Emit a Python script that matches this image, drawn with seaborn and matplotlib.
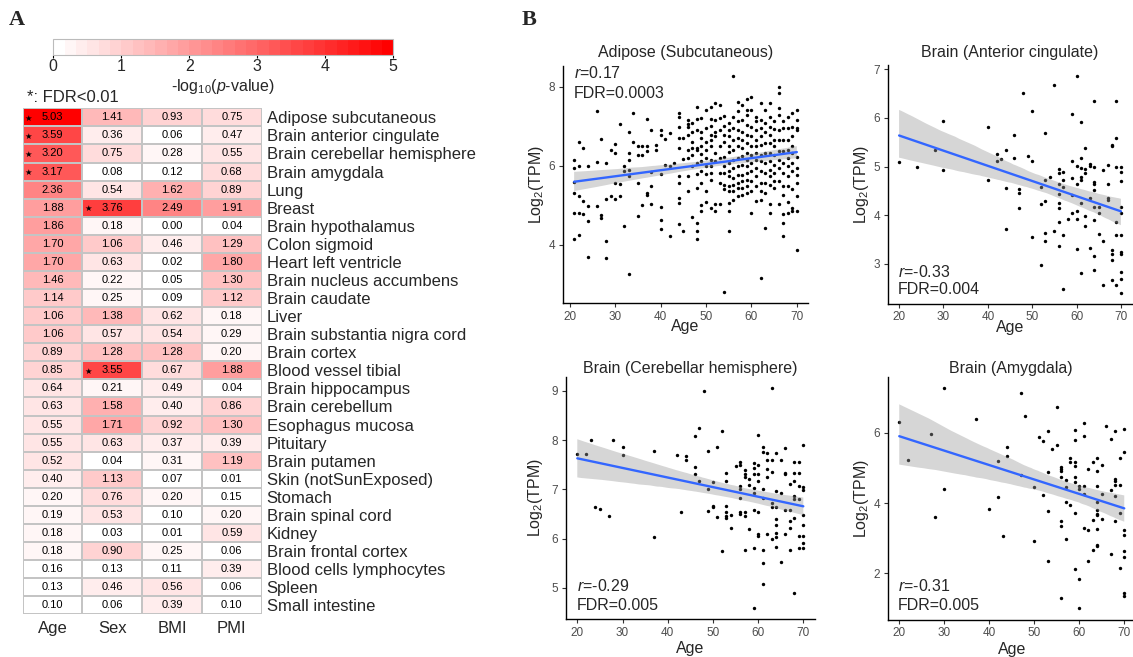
import numpy as np
import pandas as pd
import matplotlib
matplotlib.use("Agg")
import matplotlib.pyplot as plt
import seaborn as sns
from matplotlib.colors import LinearSegmentedColormap
from matplotlib.collections import PolyCollection

# ---------------- data: panel A ----------------
tissues = ["Adipose subcutaneous", "Brain anterior cingulate", "Brain cerebellar hemisphere",
           "Brain amygdala", "Lung", "Breast", "Brain hypothalamus", "Colon sigmoid",
           "Heart left ventricle", "Brain nucleus accumbens", "Brain caudate", "Liver",
           "Brain substantia nigra cord", "Brain cortex", "Blood vessel tibial",
           "Brain hippocampus", "Brain cerebellum", "Esophagus mucosa", "Pituitary",
           "Brain putamen", "Skin (notSunExposed)", "Stomach", "Brain spinal cord", "Kidney",
           "Brain frontal cortex", "Blood cells lymphocytes", "Spleen", "Small intestine"]
factors = ["Age", "Sex", "BMI", "PMI"]
age_p = [5.03, 3.59, 3.20, 3.17, 2.36, 1.88, 1.86, 1.70, 1.70, 1.46, 1.14, 1.06, 1.06, 0.89,
         0.85, 0.64, 0.63, 0.55, 0.55, 0.52, 0.40, 0.20, 0.19, 0.18, 0.18, 0.16, 0.13, 0.10]
sex_p = [1.41, 0.36, 0.75, 0.08, 0.54, 3.76, 0.18, 1.06, 0.63, 0.22, 0.25, 1.38, 0.57, 1.28,
         3.55, 0.21, 1.58, 1.71, 0.63, 0.04, 1.13, 0.76, 0.53, 0.03, 0.90, 0.13, 0.46, 0.06]
bmi_p = [0.93, 0.06, 0.28, 0.12, 1.62, 2.49, 0.00, 0.46, 0.02, 0.05, 0.09, 0.62, 0.54, 1.28,
         0.67, 0.49, 0.40, 0.92, 0.37, 0.31, 0.07, 0.20, 0.10, 0.01, 0.25, 0.11, 0.56, 0.39]
pmi_p = [0.75, 0.47, 0.55, 0.68, 0.89, 1.91, 0.04, 1.29, 1.80, 1.30, 1.12, 0.18, 0.29, 0.20,
         1.88, 0.04, 0.86, 1.30, 0.39, 1.19, 0.01, 0.15, 0.20, 0.59, 0.06, 0.39, 0.06, 0.10]
# FDR < 0.01 cells (tissue, factor)
fdr_sig = [("Adipose subcutaneous", "Age"), ("Brain anterior cingulate", "Age"),
           ("Brain cerebellar hemisphere", "Age"), ("Brain amygdala", "Age"),
           ("Breast", "Sex"), ("Blood vessel tibial", "Sex")]

# ---------------- data: panel B (Log2 TPM by age) ----------------
adipose = {
    21: [5.94, 6.15, 5.58, 5.31, 4.81, 4.15], 22: [6.61, 5.98, 5.23, 4.81, 4.24],
    23: [6.44, 5.10, 4.77], 24: [5.98, 4.99, 4.60, 3.68], 26: [7.37, 6.10, 4.98],
    27: [6.68, 4.75, 4.67], 28: [6.06, 5.17, 4.10, 3.66], 29: [6.40, 5.23],
    30: [6.55, 6.32, 5.56, 5.16], 31: [7.05, 5.55, 5.23], 32: [6.00, 5.86, 4.47],
    33: [6.84, 6.32, 6.15, 5.88, 5.73, 3.26], 34: [7.32, 6.60], 35: [6.50, 6.28, 5.56, 4.74],
    36: [6.50, 6.28, 5.00], 37: [7.19, 6.50, 6.38, 5.31, 5.27], 38: [6.89, 5.83, 5.48, 5.02],
    39: [6.52, 6.40], 40: [6.89, 6.78, 5.80, 4.96, 4.64, 4.41], 41: [6.68, 6.03],
    42: [6.82, 6.00, 4.22], 43: [6.06],
    44: [7.32, 7.22, 6.97, 6.70, 6.44, 5.73, 5.56, 5.19, 5.06, 4.52], 45: [6.71, 6.18, 4.35],
    46: [7.16, 7.06, 6.97, 6.78, 6.40, 6.19, 5.75, 5.35],
    47: [7.09, 6.86, 6.61, 6.46, 6.28, 5.98, 4.70],
    48: [7.48, 7.17, 6.91, 6.44, 6.40, 6.06, 5.80, 5.44, 4.56, 4.35, 4.14],
    49: [7.20, 6.86, 6.70, 6.50, 6.29, 6.11, 5.86, 5.56, 5.00, 4.85],
    50: [7.41, 6.95, 6.61, 6.40, 6.19, 5.98, 5.80, 5.35, 5.09],
    51: [7.49, 7.18, 7.00, 6.78, 6.65, 6.49, 6.15, 5.98, 5.82, 5.65, 4.93],
    52: [7.58, 7.16, 6.86, 6.74, 6.32, 6.11, 5.02, 4.85],
    53: [7.53, 7.20, 6.91, 6.49, 6.19, 5.82, 5.56, 5.02],
    54: [7.26, 7.00, 6.78, 6.59, 6.22, 5.98, 5.82, 5.52, 5.40, 2.80],
    55: [7.07, 6.91, 6.74, 6.49, 6.34, 6.06, 5.86, 5.73, 5.48, 5.35, 5.06, 4.85, 4.35],
    56: [8.26, 7.24, 6.95, 6.65, 6.40, 6.15, 5.94, 5.69, 5.52, 5.35, 5.14],
    57: [7.61, 7.37, 7.12, 6.91, 6.70, 6.49, 6.19, 5.98, 5.77, 5.56, 5.44, 5.23],
    58: [7.53, 7.16, 6.86, 6.65, 6.44, 6.25, 6.03, 5.77, 5.61, 5.44, 5.27],
    59: [7.68, 7.41, 7.28, 7.03, 6.78, 6.57, 6.32, 6.15, 5.98, 5.82, 5.65, 5.48, 5.31],
    60: [7.73, 7.41, 6.99, 6.74, 6.49, 6.28, 6.06, 5.86, 5.61, 5.35, 4.81],
    61: [7.24, 7.12, 6.91, 6.65, 6.49, 6.32, 6.15, 5.94, 5.73, 5.48, 5.10],
    62: [7.59, 7.16, 6.95, 6.74, 6.53, 6.28, 6.11, 5.86, 5.56, 5.35, 5.14, 3.16],
    63: [7.41, 7.07, 6.86, 6.57, 6.32, 6.06, 5.82, 5.56, 5.31, 4.43],
    64: [7.59, 7.24, 6.97, 6.78, 6.57, 6.32, 6.11, 5.90, 5.73, 5.52, 5.02, 4.81],
    65: [7.13, 6.92, 6.65, 6.49, 6.28, 6.03, 5.82, 5.61, 5.44],
    66: [8.00, 7.84, 7.45, 7.28, 6.91, 6.65, 6.36, 6.15, 5.94, 5.61, 5.02],
    67: [7.12, 6.95, 6.65, 6.36, 6.06, 5.82, 5.48, 5.27, 4.77, 4.54, 4.22],
    68: [7.24, 6.95, 6.65, 6.40, 6.19, 5.98, 5.73, 5.48, 5.08, 4.81],
    69: [7.32, 6.97, 6.74, 6.49, 6.32, 6.06, 5.86, 5.40, 4.93, 4.85],
    70: [7.41, 7.16, 6.95, 6.91, 6.22, 5.94, 5.77, 5.56, 5.23, 4.85, 3.87],
}
anterior_cingulate = {
    20: [5.09], 24: [5.00], 28: [5.33], 30: [5.94, 4.92], 40: [5.81, 4.73], 42: [5.26, 5.12],
    43: [5.15], 44: [5.33, 4.55, 3.71], 46: [5.64, 5.17], 47: [4.53, 4.45, 4.14], 48: [6.51],
    49: [5.21], 50: [6.15, 5.11, 3.56], 52: [4.57, 4.23, 2.98], 53: [5.68, 4.72, 4.30, 3.64, 3.46],
    54: [4.79], 55: [6.67, 3.67], 56: [4.94, 4.86, 4.65, 4.43, 4.24, 4.14, 3.86, 3.37],
    57: [4.89, 4.72, 4.58, 3.60, 2.49], 58: [3.93], 59: [6.08, 5.12, 4.77, 4.41, 4.04],
    60: [6.86, 5.01, 4.64, 4.09, 3.93, 3.30], 61: [5.92, 5.17, 4.96, 4.79, 4.72, 4.24, 2.80],
    62: [5.39, 4.94, 4.86, 3.98, 3.78], 63: [5.05, 5.01, 4.35, 3.32],
    64: [6.34, 5.00, 4.69, 4.64, 4.52, 4.17, 3.90, 3.16, 2.88], 65: [4.17, 4.04, 3.62],
    66: [4.93, 3.46, 2.56], 67: [5.03, 4.65, 4.35, 4.31], 68: [5.44, 5.42, 3.28, 3.21, 3.08, 2.66],
    69: [6.34, 5.58, 4.98, 3.86, 3.59, 2.57],
    70: [5.00, 4.89, 4.70, 4.17, 4.04, 3.60, 3.24, 3.21, 2.82, 2.68, 2.40],
}
cerebellar_hemisphere = {
    20: [7.71], 22: [7.71], 23: [8.01], 24: [6.65], 25: [6.60], 27: [6.45], 28: [8.01],
    30: [7.86, 7.70], 37: [7.78, 6.03], 42: [7.70], 43: [6.55], 44: [7.68, 7.59],
    46: [8.09, 7.45, 7.32], 47: [8.25, 7.18], 48: [9.00], 49: [7.78, 7.00, 6.57],
    50: [7.14, 6.66, 6.65], 51: [7.86, 6.43], 52: [8.19, 5.75],
    53: [7.34, 7.18, 6.67, 6.54, 6.45, 6.41], 54: [6.48, 6.21], 55: [7.48],
    56: [7.56, 7.49, 7.07, 7.00, 6.83, 6.55, 6.51], 57: [7.39, 7.32, 7.26, 6.55, 6.45, 5.77],
    58: [7.22, 7.09, 6.19], 59: [7.53, 7.43, 7.32, 7.02, 6.92, 6.58, 5.82, 4.59],
    60: [8.11, 7.49, 7.32, 7.16, 6.55, 6.09, 6.06], 61: [7.85, 7.76, 7.00, 6.82, 5.76, 5.50, 5.08],
    62: [7.73, 7.59, 7.41, 7.26, 6.09], 63: [9.06, 7.59, 7.36, 6.72, 6.65, 6.00],
    64: [7.74, 6.97, 6.65, 6.39, 6.28, 6.12, 6.03, 5.84], 65: [7.59, 6.92, 5.53],
    66: [7.83, 7.34, 7.31, 6.59, 6.09], 67: [7.11, 6.58, 6.36, 6.21, 5.77],
    68: [7.55, 7.34, 7.16, 6.87, 6.80, 6.41, 4.89], 69: [7.56, 7.34, 7.07, 6.80, 6.05, 5.82],
    70: [7.90, 7.05, 6.99, 6.48, 6.28, 6.05, 5.92, 5.82],
}
amygdala = {
    20: [6.30], 22: [5.22], 27: [5.96], 28: [3.59], 30: [7.28, 4.41], 37: [6.40], 40: [3.82],
    42: [5.19, 4.18], 43: [3.07], 44: [5.58, 5.34], 47: [7.12, 4.80], 48: [6.47],
    50: [4.46, 2.93], 51: [5.89], 52: [5.76, 4.22], 53: [6.05, 4.89, 3.76, 2.35], 54: [5.54],
    55: [6.72, 5.65], 56: [5.03, 4.96, 4.91, 4.75, 3.49, 3.36, 1.31], 57: [4.65, 4.46, 4.02, 2.98],
    58: [5.27, 5.18, 3.95], 59: [6.09, 5.79, 5.18, 5.05, 4.73, 4.61, 3.71, 2.11],
    60: [4.49, 4.40, 1.85, 1.00], 61: [6.27, 5.92, 4.49, 4.27, 3.30], 62: [4.96, 3.23, 2.36],
    63: [5.18, 3.52, 2.66], 64: [5.29, 4.92, 4.48, 4.04, 3.80, 3.69, 3.65, 3.26, 2.81, 2.78],
    65: [5.08, 4.27, 3.54], 66: [6.19], 67: [5.81, 4.37, 2.55],
    68: [6.05, 4.67, 4.63, 4.51, 4.20, 3.50], 69: [5.29, 4.51, 3.71, 2.14],
    70: [6.12, 5.44, 3.23, 3.10, 2.64, 2.47, 1.43, 1.36],
}
panel_titles = ["Adipose (Subcutaneous)", "Brain (Anterior cingulate)",
                "Brain (Cerebellar hemisphere)", "Brain (Amygdala)"]
panel_r = ["0.17", "-0.33", "-0.29", "-0.31"]
panel_fdr = ["0.0003", "0.004", "0.005", "0.005"]
age_ticks = [20, 30, 40, 50, 60, 70]
panel_yticks = [[4, 6, 8], [3, 4, 5, 6, 7], [5, 6, 7, 8, 9], [2, 4, 6]]

# ---------------- style ----------------
sns.set_theme(style="ticks")
plt.rcParams["font.family"] = ["Liberation Sans", "DejaVu Sans"]
plt.rcParams["mathtext.fontset"] = "custom"
plt.rcParams["mathtext.rm"] = "Liberation Sans"
plt.rcParams["mathtext.it"] = "Liberation Sans:italic"

W, H = 1133, 657
fig = plt.figure(figsize=(W / 100, H / 100), dpi=100)


def rect(l, t, r, b):
    return [l / W, 1 - b / H, (r - l) / W, (b - t) / H]


def ftext(x, y, s, **kw):
    fig.text(x / W, 1 - y / H, s, **kw)


# ---------------- panel A: heatmap ----------------
df = pd.DataFrame({"Age": age_p, "Sex": sex_p, "BMI": bmi_p, "PMI": pmi_p}, index=tissues)[factors]
cmap = LinearSegmentedColormap.from_list("wr", ["#FFFFFF", "#FF0000"], N=30)
axh = fig.add_axes(rect(22.7, 108.3, 261.7, 614.3))
cax = fig.add_axes(rect(53.3, 38.5, 393.3, 55))
sns.heatmap(df, ax=axh, cmap=cmap, vmin=0, vmax=5, annot=True, fmt=".2f",
            annot_kws={"fontsize": 8, "color": "black"}, linewidths=1.1, linecolor="#C4C4C4",
            xticklabels=True, yticklabels=True, cbar_ax=cax,
            cbar_kws={"orientation": "horizontal", "ticks": [0, 1, 2, 3, 4, 5]})
axh.yaxis.tick_right()
axh.tick_params(axis="y", length=0, pad=3.5, labelsize=12, rotation=0)
axh.tick_params(axis="x", length=0, pad=4.5, labelsize=12, rotation=0)
for lab in axh.get_yticklabels():
    lab.set_ha("left")
axh.set_xlabel("")
axh.set_ylabel("")
for tissue, fac in fdr_sig:
    i = tissues.index(tissue)
    j = factors.index(fac)
    axh.text(j + 0.09, i + 0.55, "\u2605", fontsize=6, ha="center", va="center",
             color="black", family=["DejaVu Sans"])

cbar = axh.collections[0].colorbar
cbar.outline.set_edgecolor("#BBBBBB")
cbar.outline.set_linewidth(0.8)
cax.tick_params(axis="x", length=2.5, width=0.8, color="black", labelsize=11.5, pad=0.5)
ftext(223, 86, r"-log$_{10}$($p$-value)", fontsize=11.5, ha="center", va="center")
ftext(27, 98, "*: FDR<0.01", fontsize=12, ha="left", va="center")
ftext(17, 20, "A", fontsize=16, fontweight="bold", family=["Liberation Serif"],
      ha="center", va="center")
ftext(529, 20, "B", fontsize=16, fontweight="bold", family=["Liberation Serif"],
      ha="center", va="center")

# ---------------- panel B: scatter + regression ----------------
panel_data = [adipose, anterior_cingulate, cerebellar_hemisphere, amygdala]
rects = [(563, 65.6, 808, 303), (888, 65.4, 1132, 303.6),
         (566, 377, 814.6, 619), (888, 376.7, 1135.5, 619.5)]
xlims = [(18.55, 72.45), (17.5, 72.5), (17.5, 72.5), (17.5, 72.5)]
ylims = [(2.53, 8.53), (2.18, 7.08), (4.37, 9.28), (0.686, 7.594)]
title_y = [52, 52, 369, 369]
ylab_x = [-0.069, -0.070, -0.084, -0.069]
xlab_y = [-0.068, -0.068, -0.092, -0.092]
txt_pos = [((574, 73), (574, 93)), ((898, 272), (898, 290)),
           ((577, 586), (577, 605)), ((898, 586), (898, 605))]

for k in range(4):
    d = panel_data[k]
    ages = np.concatenate([[a] * len(v) for a, v in d.items()]).astype(float)
    tpm = np.concatenate([v for v in d.values()]).astype(float)
    ax = fig.add_axes(rect(*rects[k]))
    sns.regplot(x=ages, y=tpm, ax=ax, ci=95, n_boot=1000, seed=3, truncate=True,
                scatter_kws=dict(s=6, color="black", alpha=1, linewidths=0),
                line_kws=dict(color="#3366FF", lw=1.7))
    for coll in ax.collections:
        if isinstance(coll, PolyCollection):
            coll.set_facecolor("#999999")
            coll.set_alpha(0.4)
            coll.set_edgecolor("none")
    ax.set_xlim(*xlims[k])
    ax.set_ylim(*ylims[k])
    ax.set_xticks(age_ticks)
    ax.set_yticks(panel_yticks[k])
    sns.despine(ax=ax)
    for sp in ["left", "bottom"]:
        ax.spines[sp].set_color("black")
        ax.spines[sp].set_linewidth(1.0)
    ax.tick_params(length=3, width=0.8, color="#333333", labelsize=8.5,
                   labelcolor="#4D4D4D", pad=2.5)
    ax.set_xlabel("Age", fontsize=11.5)
    ax.set_ylabel(r"Log$_2$(TPM)", fontsize=11.5)
    ax.xaxis.set_label_coords(0.5, xlab_y[k])
    ax.yaxis.set_label_coords(ylab_x[k], 0.5)
    l, t, r, b = rects[k]
    ftext((l + min(r, 1132)) / 2 if k != 3 else (l + r) / 2 - 1, title_y[k], panel_titles[k],
          fontsize=11.5, ha="center", va="center")
    (rx, ry), (fx, fy) = txt_pos[k]
    ftext(rx, ry, r"$r$=" + panel_r[k], fontsize=11.5, ha="left", va="center")
    ftext(fx, fy, "FDR=" + panel_fdr[k], fontsize=11.5, ha="left", va="center")

fig.savefig("out.png", dpi=100)
